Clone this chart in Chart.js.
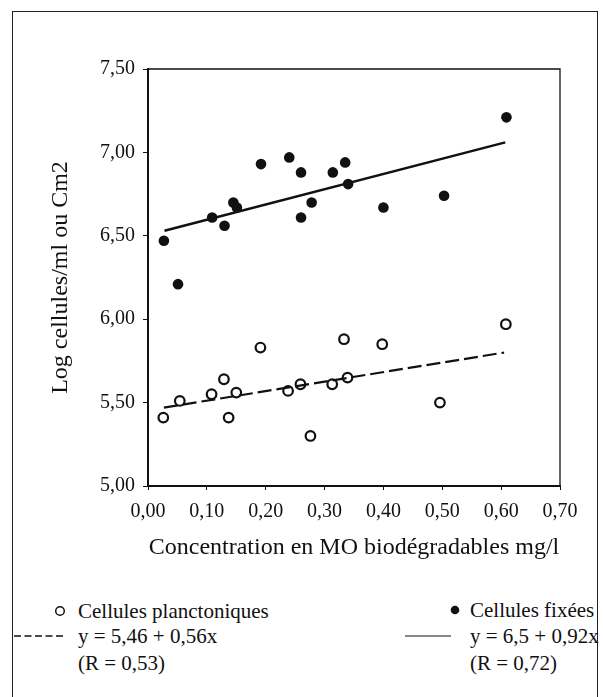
<!DOCTYPE html>
<html>
<head>
<meta charset="utf-8">
<script src="https://cdn.jsdelivr.net/npm/chart.js@4"></script>
<style>
  body { margin: 0; background: #fff; width: 603px; height: 697px; overflow: hidden; position: relative; }
  #frame { position: absolute; left: 12px; top: 11px; width: 584px; height: 720px; border: 1px solid #222; }
  #chart { position: absolute; left: 0; top: 0; }
  .lg { position: absolute; font-family: "Liberation Serif", serif; font-size: 21px; color: #111; line-height: 22px; white-space: nowrap; }
  svg { position: absolute; }
</style>
</head>
<body>
<div id="frame"></div>
<canvas id="chart" width="603" height="580"></canvas>

<svg style="left:53px;top:604px" width="14" height="14"><circle cx="7" cy="7" r="4.3" fill="#fff" stroke="#111" stroke-width="1.5"/></svg>
<div class="lg" style="left:78px;top:600px">Cellules planctoniques</div>
<svg style="left:14px;top:632px" width="50" height="8"><line x1="0" y1="4" x2="50" y2="4" stroke="#111" stroke-width="1.3" stroke-dasharray="7 3.5"/></svg>
<div class="lg" style="left:78px;top:625px">y = 5,46 + 0,56x</div>
<div class="lg" style="left:78px;top:652px">(R = 0,53)</div>

<svg style="left:448px;top:603px" width="14" height="14"><circle cx="7" cy="7" r="4.3" fill="#111"/></svg>
<div class="lg" style="left:470px;top:599px">Cellules fixées</div>
<svg style="left:405px;top:632px" width="46" height="8"><line x1="0" y1="4" x2="46" y2="4" stroke="#111" stroke-width="1.2"/></svg>
<div class="lg" style="left:470px;top:625px">y = 6,5 + 0,92x</div>
<div class="lg" style="left:470px;top:652px">(R = 0,72)</div>

<script>
const xTickValues = [0, 0.1, 0.2, 0.3, 0.4, 0.5, 0.6, 0.7];
const xTickLabels = ["0,00", "0,10", "0,20", "0,30", "0,40", "0,50", "0,60", "0,70"];
const yTickValues = [5, 5.5, 6, 6.5, 7, 7.5];
const yTickLabels = ["5,00", "5,50", "6,00", "6,50", "7,00", "7,50"];

// cellules planctoniques (cercles vides)
const planctX = [0.026, 0.054, 0.108, 0.129, 0.137, 0.150, 0.191, 0.238, 0.259, 0.276, 0.313, 0.333, 0.339, 0.398, 0.496, 0.608];
const planctY = [5.41, 5.51, 5.55, 5.64, 5.41, 5.56, 5.83, 5.57, 5.61, 5.30, 5.61, 5.88, 5.65, 5.85, 5.50, 5.97];

// cellules fixées (points pleins)
const fixX = [0.027, 0.051, 0.109, 0.130, 0.145, 0.151, 0.192, 0.240, 0.260, 0.260, 0.278, 0.314, 0.335, 0.340, 0.400, 0.503, 0.609];
const fixY = [6.47, 6.21, 6.61, 6.56, 6.70, 6.67, 6.93, 6.97, 6.88, 6.61, 6.70, 6.88, 6.94, 6.81, 6.67, 6.74, 7.21];

// droites de régression (extrémités)
const planctFitX = [0.027, 0.605];
const planctFitY = [5.47, 5.80];
const fixFitX = [0.028, 0.607];
const fixFitY = [6.53, 7.06];

const toPoints = (xs, ys) => xs.map((x, i) => ({ x: x, y: ys[i] }));
const serif = "Liberation Serif";

const boxPlugin = {
  id: "box",
  afterDraw(chart) {
    const a = chart.chartArea;
    const ctx = chart.ctx;
    ctx.save();
    ctx.strokeStyle = "#111";
    ctx.lineWidth = 1.3;
    ctx.beginPath();
    ctx.moveTo(a.left, a.top);
    ctx.lineTo(a.right, a.top);
    ctx.lineTo(a.right, a.bottom);
    ctx.stroke();
    ctx.restore();
  }
};

new Chart(document.getElementById("chart").getContext("2d"), {
  type: "scatter",
  data: {
    datasets: [
      {
        type: "line",
        data: toPoints(fixFitX, fixFitY),
        borderColor: "#111",
        borderWidth: 2.5,
        pointRadius: 0,
        fill: false,
      },
      {
        type: "line",
        data: toPoints(planctFitX, planctFitY),
        borderColor: "#111",
        borderWidth: 2.2,
        borderDash: [14, 5],
        pointRadius: 0,
        fill: false,
      },
      {
        label: "Cellules fixées",
        data: toPoints(fixX, fixY),
        pointRadius: 5.3,
        pointBackgroundColor: "#111",
        pointBorderColor: "#111",
        pointBorderWidth: 0,
      },
      {
        label: "Cellules planctoniques",
        data: toPoints(planctX, planctY),
        pointRadius: 4.8,
        pointBackgroundColor: "#fff",
        pointBorderColor: "#111",
        pointBorderWidth: 2.2,
      },
    ],
  },
  options: {
    responsive: false,
    animation: false,
    layout: { padding: { left: 0, right: 43, top: 69, bottom: 14 } },
    plugins: { legend: { display: false }, tooltip: { enabled: false } },
    scales: {
      x: {
        type: "linear",
        min: 0,
        max: 0.7,
        afterBuildTicks: (s) => { s.ticks = xTickValues.map((v) => ({ value: v })); },
        afterFit: (s) => { s.height = 80; },
        grid: { drawOnChartArea: false, drawTicks: true, tickLength: 4, color: "#111" },
        border: { color: "#111", width: 2 },
        ticks: {
          color: "#111",
          padding: 10,
          maxRotation: 0,
          font: { family: serif, size: 20 },
          callback: (v, i) => xTickLabels[i],
        },
        title: {
          display: true,
          text: "Concentration en MO biodégradables mg/l",
          color: "#111",
          font: { family: serif, size: 24 },
          padding: { top: 0, bottom: 3.6 },
        },
      },
      y: {
        type: "linear",
        min: 5,
        max: 7.5,
        afterBuildTicks: (s) => { s.ticks = yTickValues.map((v) => ({ value: v })); },
        afterFit: (s) => { s.width = 148; },
        grid: { drawOnChartArea: false, drawTicks: true, tickLength: 5, color: "#111" },
        border: { color: "#111", width: 2 },
        ticks: {
          color: "#111",
          padding: 8,
          font: { family: serif, size: 20 },
          callback: (v, i) => yTickLabels[i],
        },
        title: {
          display: true,
          text: "Log cellules/ml ou Cm2",
          color: "#111",
          font: { family: serif, size: 24 },
          padding: { top: 46.6, bottom: 0 },
        },
      },
    },
  },
  plugins: [boxPlugin],
});
</script>
</body>
</html>
